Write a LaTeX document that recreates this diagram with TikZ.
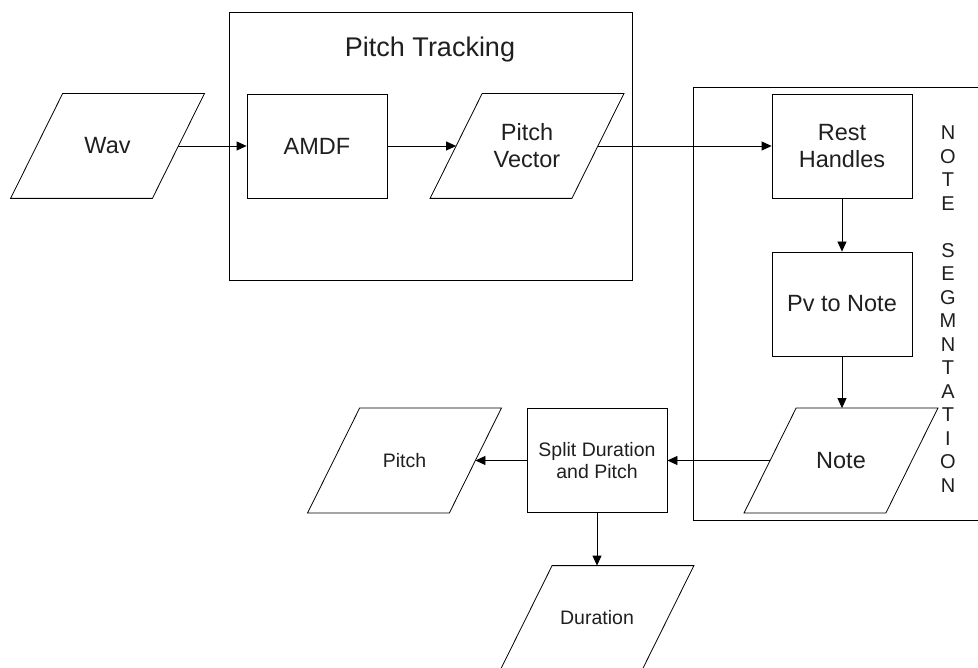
\documentclass[tikz,border=0pt]{standalone}
\usepackage{fontspec}
\setmainfont{Liberation Sans}
\usetikzlibrary{arrows.meta}
\begin{document}
\begin{tikzpicture}[x=1pt,y=-1pt,
  line width=0.8pt,
  txt/.style={text=black!88, font=\fontsize{23.5}{27}\selectfont, align=center},
  smalltxt/.style={text=black!88, font=\fontsize{19.5}{22.5}\selectfont, align=center},
  procbox/.style={draw, minimum width=140pt, minimum height=104pt, inner sep=0pt},
  iobox/.style={minimum width=141pt, minimum height=104pt, inner sep=0pt},
  grpbox/.style={draw, inner sep=0pt},
  flow/.style={-{Triangle[length=10pt,width=9pt]}, line width=0.8pt}
]
\useasboundingbox (0,0) rectangle (978,668);
\clip (0,0) rectangle (978,668);
\newcommand{\parashape}[1]{%
  \draw ([xshift=26pt]#1.north west) -- ([xshift=26pt]#1.north east)
     -- ([xshift=-26pt]#1.south east) -- ([xshift=-26pt]#1.south west) -- cycle;}

% group boxes
\node[grpbox, minimum width=403pt, minimum height=268pt] (pt) at (430.5,146) {};
\node[txt, font=\fontsize{27}{30}\selectfont] (ptlabel) at (430,49.5) {Pitch Tracking};
\node[grpbox, minimum width=292pt, minimum height=433pt] (ns) at (839,303.5) {};
\node[text=black!88, font=\fontsize{20}{23.5}\selectfont, align=center, inner sep=0pt] (nslabel) at (948,309)
  {N\\O\\T\\E\\\mbox{}\\S\\E\\G\\M\\N\\T\\A\\T\\I\\O\\N};

% flow nodes
\node[iobox, txt] (wav) at (107.5,146) {Wav};
\parashape{wav}
\node[procbox, txt] (amdf) at (317,146) {AMDF};
\node[iobox, txt] (pv) at (527,146) {Pitch\\Vector};
\parashape{pv}
\node[procbox, txt] (rh) at (842,146) {Rest\\Handles};
\node[procbox, txt] (pvn) at (842,304) {Pv to Note};
\node[iobox, txt] (note) at (841,460.5) {Note};
\parashape{note}
\node[procbox, smalltxt] (split) at (597,460.5) {Split Duration\\and Pitch};
\node[iobox, smalltxt] (pitch) at (404.5,460.5) {Pitch};
\parashape{pitch}
\node[iobox, smalltxt] (dur) at (597,618) {Duration};
\parashape{dur}

% connectors
\draw[flow] (wav.east) -- (amdf.west);
\draw[flow] (amdf.east) -- (pv.west);
\draw[flow] (pv.east) -- (rh.west);
\draw[flow] (rh.south) -- (pvn.north);
\draw[flow] (pvn.south) -- ([xshift=1pt]note.north);
\draw[flow] (note.west) -- (split.east);
\draw[flow] (split.west) -- (pitch.east);
\draw[flow] (split.south) -- (dur.north);
\end{tikzpicture}
\end{document}
